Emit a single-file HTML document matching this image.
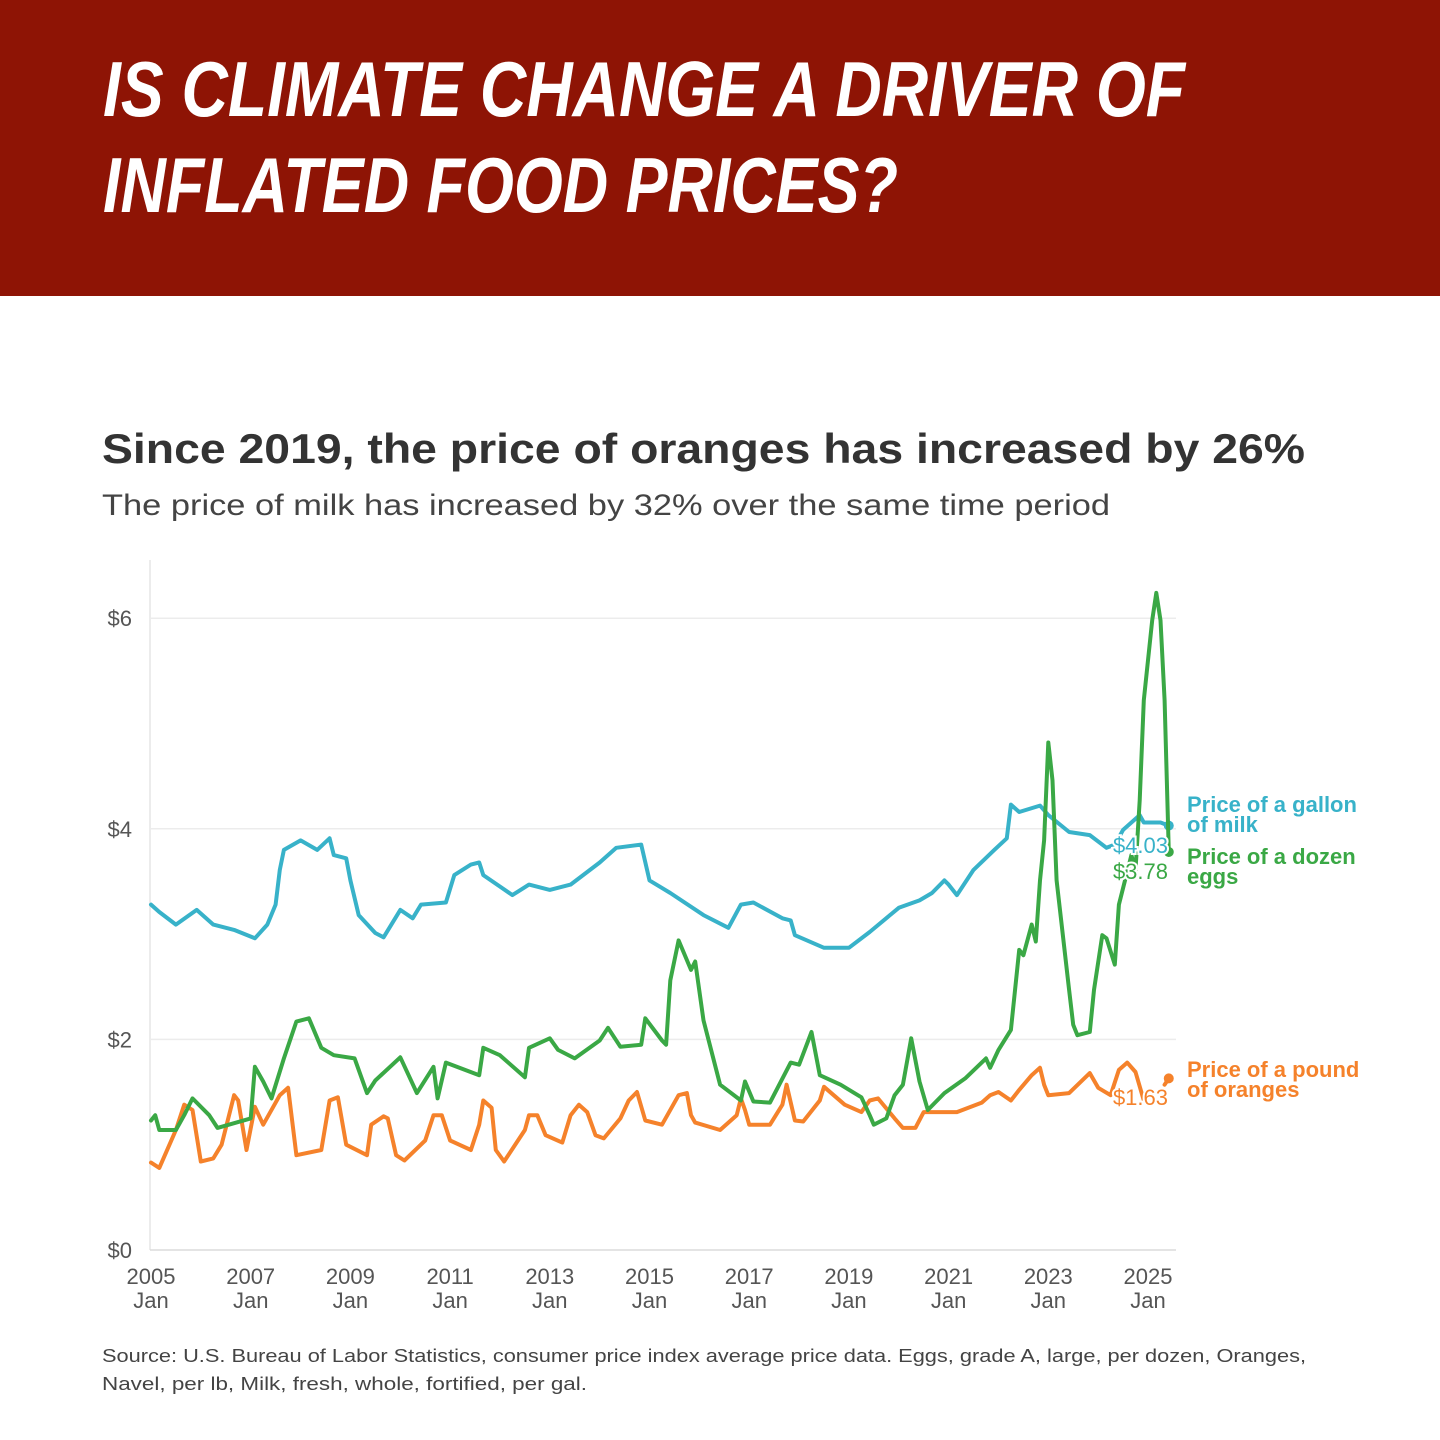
<!DOCTYPE html>
<html><head><meta charset="utf-8"><style>
html,body{margin:0;padding:0;background:#fff;}
svg{display:block;}
</style></head><body>
<svg width="1440" height="1440" viewBox="0 0 1440 1440" xmlns="http://www.w3.org/2000/svg">
<rect x="0" y="0" width="1440" height="296" fill="#8e1405"/>
<g font-family="'Liberation Sans Narrow','Liberation Sans',sans-serif" font-weight="bold" font-style="italic" fill="#fff" font-size="78">
<text x="103" y="116" textLength="1082" lengthAdjust="spacingAndGlyphs">IS CLIMATE CHANGE A DRIVER OF</text>
<text x="103" y="212" textLength="795" lengthAdjust="spacingAndGlyphs">INFLATED FOOD PRICES?</text>
</g>
<text x="102" y="463" font-family="'Liberation Sans',sans-serif" font-weight="bold" font-size="42" fill="#333" textLength="1203" lengthAdjust="spacingAndGlyphs">Since 2019, the price of oranges has increased by 26%</text>
<text x="102" y="515" font-family="'Liberation Sans',sans-serif" font-size="30" fill="#444" textLength="1008" lengthAdjust="spacingAndGlyphs">The price of milk has increased by 32% over the same time period</text>
<g id="chart"></g>
<g font-family="'Liberation Sans',sans-serif" font-size="18.5" fill="#444">
<text x="102" y="1362" textLength="1204" lengthAdjust="spacingAndGlyphs">Source: U.S. Bureau of Labor Statistics, consumer price index average price data. Eggs, grade A, large, per dozen, Oranges,</text>
<text x="102" y="1390" textLength="485" lengthAdjust="spacingAndGlyphs">Navel, per lb, Milk, fresh, whole, fortified, per gal.</text>
</g>
</svg>
<script>
// months since Jan 2005
const milkMonths=[0,2,6,11,15,20,25,28,30,31,32,36,40,43,44,47,48,50,54,56,60,63,65,71,73,77,79,80,87,91,96,101,108,112,118,120,125,133,139,142,145,152,154,155,162,168,173,180,185,188,191,192,194,198,203,206,207,209,214,216,221,226,230,232,234,238,239,243,245];
const milkValues=[3.28,3.21,3.09,3.23,3.09,3.04,2.96,3.09,3.28,3.61,3.80,3.89,3.80,3.91,3.75,3.72,3.51,3.18,3.01,2.97,3.23,3.15,3.28,3.30,3.56,3.66,3.68,3.56,3.37,3.47,3.42,3.47,3.68,3.82,3.85,3.51,3.39,3.18,3.06,3.28,3.30,3.15,3.13,2.99,2.87,2.87,3.02,3.25,3.32,3.39,3.51,3.47,3.37,3.61,3.80,3.91,4.23,4.16,4.22,4.13,3.97,3.94,3.82,3.85,3.99,4.13,4.06,4.06,4.03];
const eggMonths=[0,1,2,6,8,10,14,16,24,25,27,29,32,35,38,41,44,49,52,54,60,62,64,68,69,71,79,80,84,90,91,96,98,102,108,110,113,118,119,123,124,125,127,130,131,133,137,142,143,145,149,154,156,159,161,166,171,173,174,177,179,181,183,185,187,191,196,201,202,204,207,209,210,212,213,214,215,216,217,218,221,222,223,226,227,229,230,232,233,236,237,238,239,241,242,243,244,245];
const eggValues=[1.23,1.28,1.14,1.14,1.28,1.44,1.28,1.16,1.25,1.74,1.60,1.44,1.82,2.17,2.20,1.92,1.85,1.82,1.49,1.61,1.83,1.66,1.49,1.74,1.44,1.78,1.66,1.92,1.85,1.64,1.92,2.01,1.90,1.82,1.99,2.11,1.93,1.95,2.20,1.99,1.95,2.56,2.94,2.66,2.74,2.18,1.57,1.42,1.60,1.41,1.40,1.78,1.76,2.07,1.66,1.57,1.45,1.28,1.19,1.25,1.47,1.57,2.01,1.60,1.33,1.49,1.63,1.82,1.73,1.90,2.09,2.85,2.80,3.09,2.93,3.51,3.89,4.82,4.46,3.51,2.47,2.14,2.04,2.07,2.47,2.99,2.96,2.71,3.28,3.75,3.61,4.27,5.22,5.98,6.24,5.98,5.22,3.78];
const orangeMonths=[0,2,6,8,10,12,15,17,20,21,23,25,27,31,33,35,41,43,45,47,52,53,56,57,59,61,66,68,70,72,77,79,80,82,83,85,90,91,93,95,99,101,103,105,107,109,113,115,117,119,123,127,129,130,131,137,141,142,143,144,149,152,153,155,157,161,162,167,171,173,175,179,181,184,186,194,200,202,204,207,209,212,214,215,216,221,226,228,231,233,235,237,239,242,244,245];
const orangeValues=[0.83,0.78,1.14,1.38,1.33,0.84,0.87,1.00,1.47,1.42,0.95,1.36,1.19,1.47,1.54,0.90,0.95,1.42,1.45,1.00,0.90,1.19,1.27,1.25,0.90,0.85,1.04,1.28,1.28,1.04,0.95,1.19,1.42,1.35,0.95,0.84,1.14,1.28,1.28,1.09,1.02,1.28,1.38,1.31,1.09,1.06,1.25,1.42,1.50,1.23,1.19,1.47,1.49,1.28,1.21,1.14,1.28,1.44,1.33,1.19,1.19,1.38,1.57,1.23,1.22,1.42,1.55,1.38,1.31,1.42,1.44,1.25,1.16,1.16,1.31,1.31,1.40,1.47,1.50,1.42,1.52,1.66,1.73,1.57,1.47,1.49,1.68,1.54,1.47,1.71,1.78,1.69,1.42,null,1.57,1.63];
const yTicks=[0,2,4,6];
const yTickLabels=["$0","$2","$4","$6"];
const xTickMonths=[0,24,48,72,96,120,144,168,192,216,240];
const xTickYears=["2005","2007","2009","2011","2013","2015","2017","2019","2021","2023","2025"];

const NS="http://www.w3.org/2000/svg";
const g=document.getElementById('chart');
const X0=151,PXM=997/240,Y0=1250,PXV=105.3;
function xs(m){return X0+m*PXM;}
function ys(v){return Y0-v*PXV;}
function mk(tag,attrs,parent){const e=document.createElementNS(NS,tag);for(const k in attrs)e.setAttribute(k,attrs[k]);(parent||g).appendChild(e);return e;}

const axisL=mk('line',{x1:150,y1:560,x2:150,y2:1250,stroke:'#e6e6e6','stroke-width':1.5});


yTicks.forEach((t,i)=>{
  const ln=mk('line',{x1:150,y1:ys(t),x2:1176,y2:ys(t),stroke:t===0?'#dcdcdc':'#ececec','stroke-width':1.5});
  
  
  const tx=mk('text',{x:132,y:ys(t)+8,'text-anchor':'end','font-family':"'Liberation Sans',sans-serif",'font-size':22,fill:'#555'});
  tx.textContent=yTickLabels[i];
  
  
});
xTickMonths.forEach((m,i)=>{
  const t1=mk('text',{x:xs(m),y:1284,'text-anchor':'middle','font-family':"'Liberation Sans',sans-serif",'font-size':22,fill:'#555'});
  t1.textContent=xTickYears[i];
  
  
  const t2=mk('text',{x:xs(m),y:1308,'text-anchor':'middle','font-family':"'Liberation Sans',sans-serif",'font-size':22,fill:'#555'});
  t2.textContent='Jan';
  
  
});
function path(ms,vs){let d='',pen=false;for(let i=0;i<ms.length;i++){if(vs[i]===null){pen=false;continue;}d+=(pen?'L':'M')+xs(ms[i]).toFixed(1)+' '+ys(vs[i]).toFixed(1);pen=true;}return d;}
function series(ms,vs,color,name){
  const p=mk('path',{d:path(ms,vs),fill:'none',stroke:color,'stroke-width':4,'stroke-linejoin':'round','stroke-linecap':'round'});
  
  
  const n=ms.length-1;
  const c=mk('circle',{cx:xs(ms[n]),cy:ys(vs[n]),r:5,fill:color});
  
  
}
const MILK='#38b2c9',EGG='#3aa845',ORA='#f5822b';
series(orangeMonths,orangeValues,ORA,'oranges');
series(milkMonths,milkValues,MILK,'milk');
series(eggMonths,eggValues,EGG,'eggs');

function label(x,y,txt,color,name,bold,anchor,halo){
  const t=mk('text',{x:x,y:y,'font-family':"'Liberation Sans',sans-serif",'font-size':22,'font-weight':bold?'bold':'normal',fill:color,'text-anchor':anchor||'start'});
  if(halo){t.setAttribute('stroke','#fff');t.setAttribute('stroke-width',4);t.setAttribute('paint-order','stroke');}
  t.textContent=txt;
  
  
}
const n1=milkValues.length-1,n2=eggValues.length-1,n3=orangeValues.length-1;
label(1168,853,'$'+milkValues[n1].toFixed(2),MILK,'milk-value-label',false,'end',true);
label(1168,879,'$'+eggValues[n2].toFixed(2),EGG,'eggs-value-label',false,'end',true);
label(1168,1105,'$'+orangeValues[n3].toFixed(2),ORA,'oranges-value-label',false,'end',true);
label(1187,812,'Price of a gallon',MILK,'milk-legend-line1',true);
label(1187,832,'of milk',MILK,'milk-legend-line2',true);
label(1187,864,'Price of a dozen',EGG,'eggs-legend-line1',true);
label(1187,884,'eggs',EGG,'eggs-legend-line2',true);
label(1187,1077,'Price of a pound',ORA,'oranges-legend-line1',true);
label(1187,1097,'of oranges',ORA,'oranges-legend-line2',true);
</script>
</body></html>
